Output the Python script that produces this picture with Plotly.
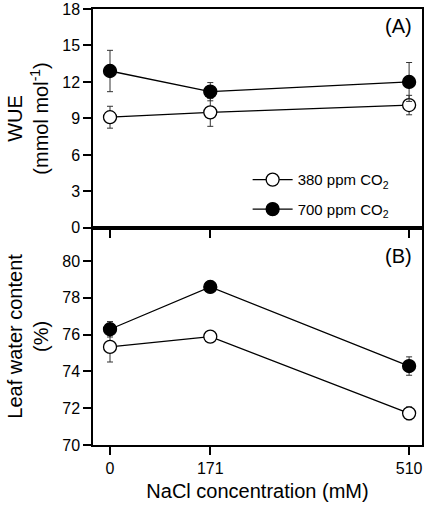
import plotly.graph_objects as go

nacl = [0, 171, 510]
tick_labels = ["0", "171", "510"]

wue_380 = [9.1, 9.5, 10.1]
wue_380_err = [0.9, 1.15, 0.8]
wue_700 = [12.9, 11.2, 12.0]
wue_700_err = [1.7, 0.75, 1.6]

lwc_380 = [75.33, 75.89, 71.72]
lwc_380_err = [0.82, 0.12, 0.35]
lwc_700 = [76.29, 78.59, 74.29]
lwc_700_err = [0.42, 0.25, 0.5]

FONT = "Liberation Sans, Arial, sans-serif"

fig = go.Figure()

def add(x, y, err, name, fill, xa, ya, show):
    fig.add_trace(go.Scatter(
        x=x, y=y, name=name, mode="lines+markers",
        line=dict(color="black", width=1.3),
        marker=dict(size=13, color=fill, line=dict(color="black", width=1.3)),
        error_y=dict(type="data", array=err, visible=True, color="#333", thickness=1, width=3),
        xaxis=xa, yaxis=ya, showlegend=show, legendgroup=name,
    ))

add(nacl, wue_380, wue_380_err, "380 ppm CO<sub>2</sub>", "white", "x", "y", True)
add(nacl, wue_700, wue_700_err, "700 ppm CO<sub>2</sub>", "black", "x", "y", True)
add(nacl, lwc_380, lwc_380_err, "380 ppm CO<sub>2</sub>", "white", "x2", "y2", False)
add(nacl, lwc_700, lwc_700_err, "700 ppm CO<sub>2</sub>", "black", "x2", "y2", False)

split = 0.498
axis_common = dict(showline=True, linecolor="black", linewidth=1.5, mirror=True,
                   ticks="outside", ticklen=8, tickwidth=1.5, tickcolor="black",
                   showgrid=False, zeroline=False, automargin=False,
                   tickfont=dict(family=FONT, size=16, color="black"))

fig.update_layout(
    width=426, height=511,
    margin=dict(l=93, r=4, t=9, b=66),
    paper_bgcolor="white", plot_bgcolor="white",
    font=dict(family=FONT, color="black"),
    xaxis=dict(**axis_common, range=[-29, 532], tickvals=nacl, ticktext=tick_labels,
               showticklabels=False, anchor="y", domain=[0, 1]),
    yaxis=dict(**axis_common, range=[0, 18], tickvals=[0, 3, 6, 9, 12, 15, 18],
               domain=[split, 1], anchor="x",
               title=dict(text="WUE<br>(mmol mol<sup>-1</sup>)", font=dict(family=FONT, size=20), standoff=8)),
    xaxis2=dict(**axis_common, range=[-29, 532], tickvals=nacl, ticktext=tick_labels,
                anchor="y2", domain=[0, 1],
                title=dict(text="NaCl concentration (mM)", font=dict(family=FONT, size=20), standoff=8)),
    yaxis2=dict(**axis_common, range=[70, 81.8], tickvals=[70, 72, 74, 76, 78, 80],
                domain=[0, split], anchor="x2",
                title=dict(text="Leaf water content<br>(%)", font=dict(family=FONT, size=20), standoff=8)),
    legend=dict(x=0.47, y=0.646, xanchor="left", yanchor="top",
                font=dict(family=FONT, size=15), bgcolor="rgba(0,0,0,0)",
                tracegroupgap=7, traceorder="grouped", itemwidth=40),
    annotations=[
        dict(text="(A)", x=0.975, y=0.99, xref="paper", yref="paper", xanchor="right", yanchor="top",
             showarrow=False, font=dict(family=FONT, size=20)),
        dict(text="(B)", x=0.975, y=split - 0.035, xref="paper", yref="paper", xanchor="right", yanchor="top",
             showarrow=False, font=dict(family=FONT, size=20)),
    ],
)

fig.write_html("out.html", config={"displayModeBar": False},
               post_script="document.body.style.margin='0';document.body.style.overflow='hidden';")
